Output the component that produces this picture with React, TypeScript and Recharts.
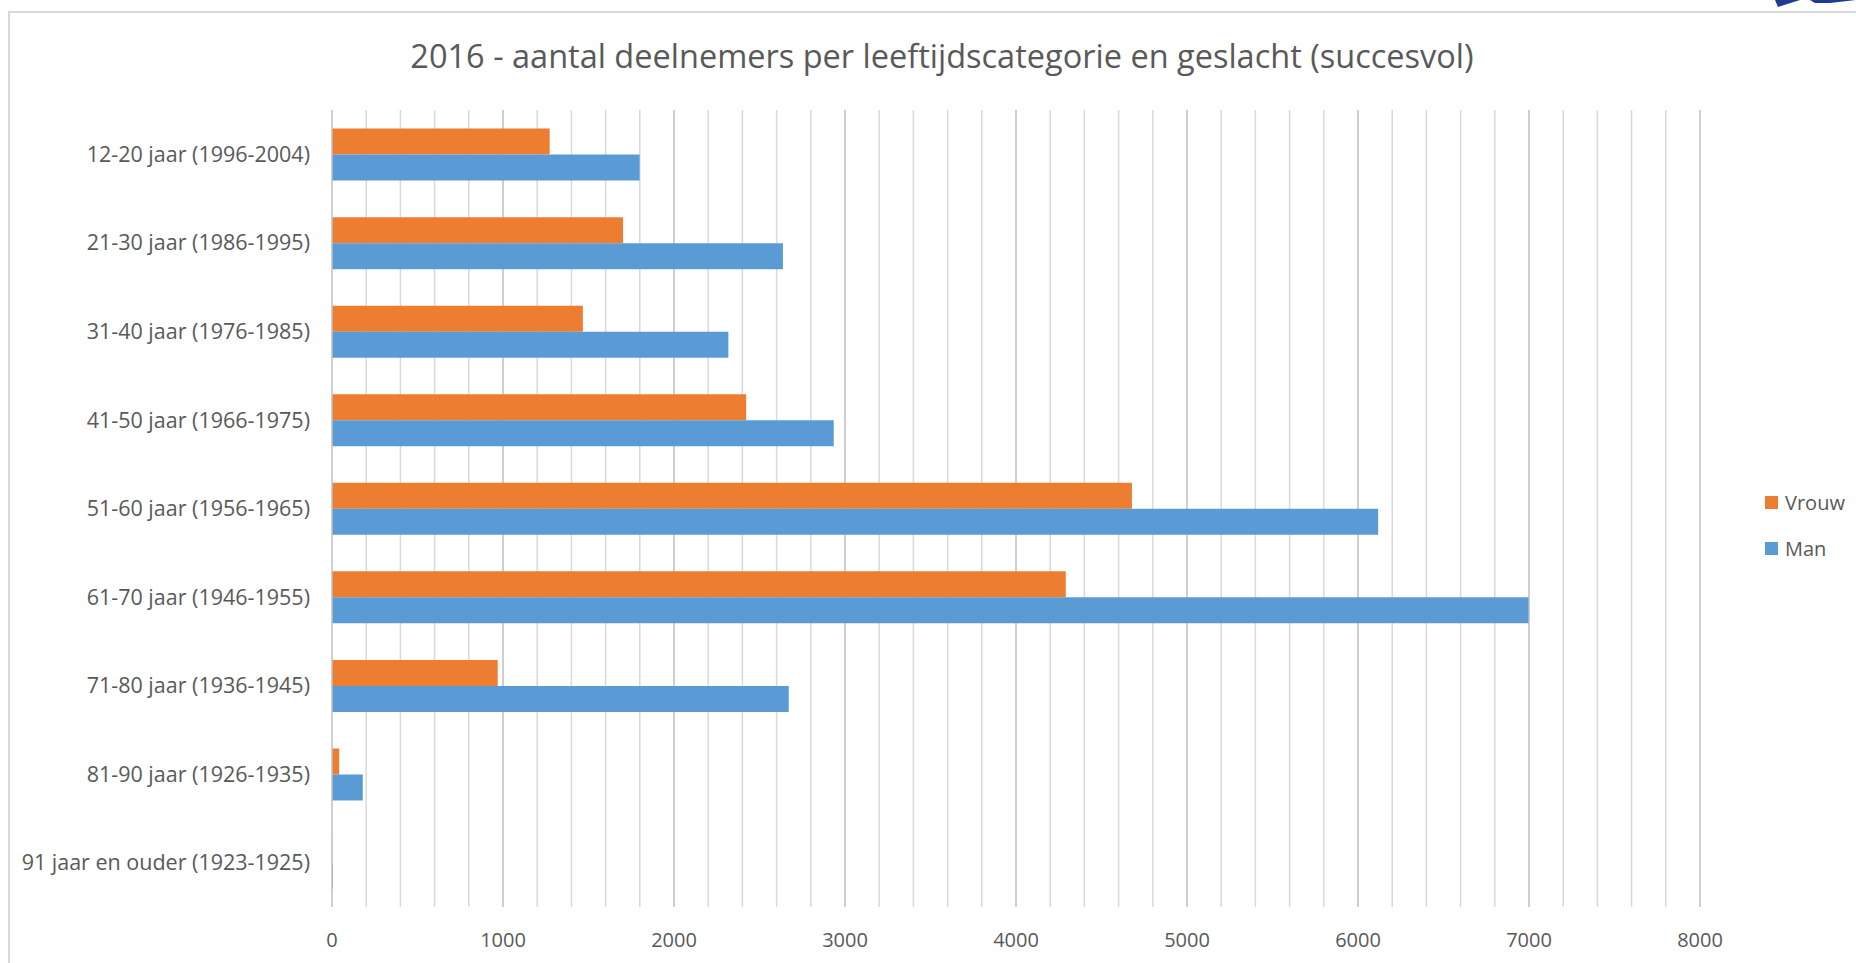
import { Bar, BarChart, CartesianGrid, XAxis, YAxis } from "recharts";

const categories = [
  "12-20 jaar (1996-2004)",
  "21-30 jaar (1986-1995)",
  "31-40 jaar (1976-1985)",
  "41-50 jaar (1966-1975)",
  "51-60 jaar (1956-1965)",
  "61-70 jaar (1946-1955)",
  "71-80 jaar (1936-1945)",
  "81-90 jaar (1926-1935)",
  "91 jaar en ouder (1923-1925)",
];
const vrouw = [1273, 1702, 1467, 2422, 4678, 4291, 969, 42, 1];
const man = [1799, 2637, 2318, 2934, 6118, 6997, 2671, 180, 5];
const xTicks = [0, 1000, 2000, 3000, 4000, 5000, 6000, 7000, 8000];
const minorGrid = [
  200, 400, 600, 800, 1200, 1400, 1600, 1800, 2200, 2400, 2600, 2800, 3200, 3400, 3600, 3800,
  4200, 4400, 4600, 4800, 5200, 5400, 5600, 5800, 6200, 6400, 6600, 6800, 7200, 7400, 7600, 7800,
];
const majorGrid = [1000, 2000, 3000, 4000, 5000, 6000, 7000, 8000];
const seriesNames = ["Vrouw", "Man"];
const seriesColors = ["#ED7D31", "#5B9BD5"];

const data = categories.map((name, i) => ({ name, Vrouw: vrouw[i], Man: man[i] }));

const FONT = "'Open Sans', sans-serif";
const TEXT = "#595959";

export default function App() {
  return (
    <div style={{ position: "absolute", left: 0, top: 0, width: 1856, height: 963, background: "#fff", overflow: "hidden" }}>
      <div style={{ position: "absolute", left: 8, top: 11, right: -2, bottom: -2, borderLeft: "2px solid #d9d9d9", borderTop: "2px solid #d9d9d9" }} />
      <svg style={{ position: "absolute", left: 1770, top: 0 }} width={86} height={12}>
        <polygon points="5,0 30,0 8,7" fill="#1f3a93" />
        <polygon points="40,0 86,0 60,3 45,3" fill="#1f3a93" />
      </svg>
      <div
        style={{
          position: "absolute",
          left: 942,
          top: 55,
          transform: "translate(-50%, -50%)",
          whiteSpace: "nowrap",
          fontFamily: FONT,
          fontSize: 32.5,
          color: TEXT,
        }}
      >
        2016 - aantal deelnemers per leeftijdscategorie en geslacht (succesvol)
      </div>
      <div style={{ position: "absolute", left: 1765, top: 479, fontFamily: FONT, fontSize: 20, color: TEXT }}>
        {seriesNames.map((n, i) => (
          <div key={n} style={{ display: "flex", alignItems: "center", height: 46 }}>
            <span style={{ width: 13, height: 13, background: seriesColors[i], marginRight: 7, display: "inline-block" }} />
            {n}
          </div>
        ))}
      </div>
      <div style={{ position: "absolute", left: 0, top: 0 }}>
        <BarChart
          width={1856}
          height={963}
          data={data}
          layout="vertical"
          margin={{ top: 110, right: 156, bottom: 6, left: 12 }}
          barCategoryGap="21%"
          barGap={0}
        >
          <CartesianGrid horizontal={false} verticalValues={minorGrid} stroke="#d9d9d9" strokeWidth={1.5} />
          <CartesianGrid horizontal={false} verticalValues={majorGrid} stroke="#bfbfbf" strokeWidth={1.5} />
          <XAxis
            type="number"
            domain={[0, 8000]}
            ticks={xTicks}
            interval={0}
            axisLine={false}
            tickLine={false}
            tickSize={0}
            tickMargin={26}
            height={50}
            tick={{ fontSize: 20, fill: TEXT, fontFamily: FONT }}
          />
          <YAxis
            type="category"
            dataKey="name"
            width={320}
            axisLine={{ stroke: "#bfbfbf", strokeWidth: 1.5 }}
            tickLine={false}
            tickSize={0}
            tickMargin={22}
            interval={0}
            tick={{ fontSize: 21.5, fill: TEXT, fontFamily: FONT }}
          />
          <Bar dataKey={seriesNames[0]} fill={seriesColors[0]} isAnimationActive={false} />
          <Bar dataKey={seriesNames[1]} fill={seriesColors[1]} isAnimationActive={false} />
        </BarChart>
      </div>
    </div>
  );
}
